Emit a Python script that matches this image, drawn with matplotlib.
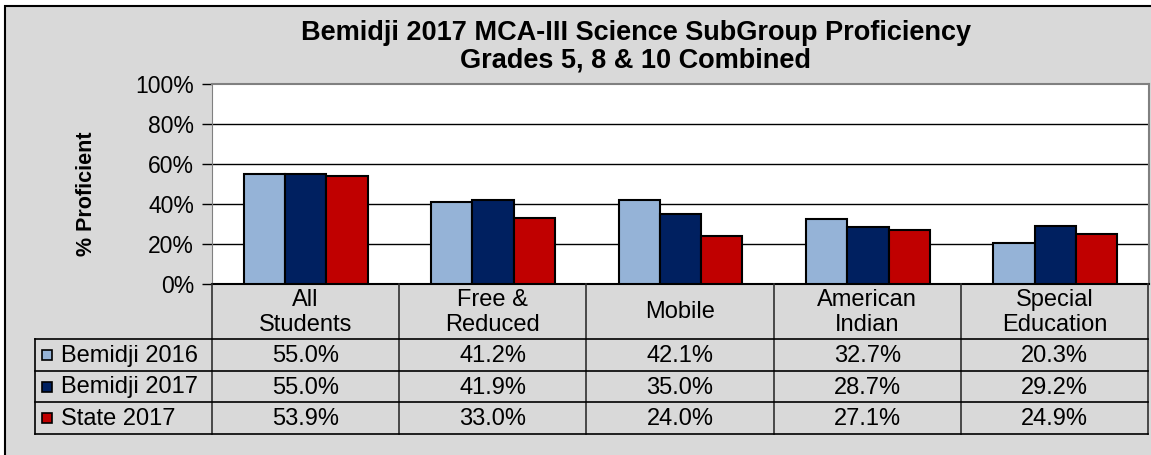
import numpy as np
import matplotlib.pyplot as plt
from matplotlib.patches import Rectangle

plt.rcParams['font.family'] = ['Liberation Sans', 'DejaVu Sans']

# data
categories = ["All\nStudents", "Free &\nReduced", "Mobile", "American\nIndian", "Special\nEducation"]
series = ["Bemidji 2016", "Bemidji 2017", "State 2017"]
bemidji_2016 = [55.0, 41.2, 42.1, 32.7, 20.3]
bemidji_2017 = [55.0, 41.9, 35.0, 28.7, 29.2]
state_2017 = [53.9, 33.0, 24.0, 27.1, 24.9]
colors = ["#95B3D7", "#002060", "#C00000"]
yticks = [0, 20, 40, 60, 80, 100]

W, H = 1151, 455
fig = plt.figure(figsize=(W / 100, H / 100), dpi=100, facecolor="white")

# gray chart background with border
fig.patches.append(Rectangle((5 / W, -0.1), 1.2, (H - 6) / H + 0.1, transform=fig.transFigure,
                             facecolor="#D9D9D9", edgecolor="black", linewidth=1.5, zorder=-1))

left, right = 212, 1149
top, bottom = 84, 284
ax = fig.add_axes([left / W, (H - bottom) / H, (right - left) / W, (bottom - top) / H])
ax.set_facecolor("white")

x = np.arange(len(categories))
bw = 0.22
data = [bemidji_2016, bemidji_2017, state_2017]
for i, vals in enumerate(data):
    ax.bar(x + (i - 1) * bw, vals, width=bw, color=colors[i], edgecolor="black", linewidth=1.5, zorder=3)

ax.set_xlim(-0.5, len(categories) - 0.5)
ax.set_ylim(0, 100)
ax.set_yticks(yticks)
ax.set_yticklabels([f"{t}%" for t in yticks], fontsize=16.5)
ax.set_xticks([])
ax.tick_params(axis="y", length=7, width=1, pad=6, color="black")
for t in yticks[1:-1]:
    ax.axhline(t, color="black", linewidth=1, zorder=1)
for s in ["top", "right"]:
    ax.spines[s].set_color("#808080")
    ax.spines[s].set_linewidth(1.5)
ax.spines["left"].set_color("#808080")
ax.spines["bottom"].set_color("black")
ax.spines["bottom"].set_linewidth(1.5)

fig.text(86 / W, 1 - 194 / H, "% Proficient", rotation=90, ha="center", va="center",
         fontsize=15.5, fontweight="bold")
fig.text(636 / W, 1 - 33 / H, "Bemidji 2017 MCA-III Science SubGroup Proficiency",
         ha="center", va="center", fontsize=19.5, fontweight="bold")
fig.text(636 / W, 1 - 61 / H, "Grades 5, 8 & 10 Combined",
         ha="center", va="center", fontsize=19.5, fontweight="bold")

# data table
tleft, tbottom = 35, 434
tab = fig.add_axes([tleft / W, (H - tbottom) / H, (right - 1 - tleft) / W, (tbottom - bottom) / H])
unit = (right - 1 - left) / len(categories)
x0 = -0.5 - (left - tleft) / unit
tab.set_xlim(x0, len(categories) - 0.5)
tab.set_ylim(tbottom - bottom, 0)
tab.axis("off")

hdr = 55
row_h = (tbottom - bottom - hdr) / 3
lc = "#303030"
for b in np.arange(len(categories) + 1) - 0.5:
    tab.plot([b, b], [0, tbottom - bottom], color=lc, linewidth=1.2, clip_on=False)
for k in range(4):
    yy = hdr + k * row_h
    tab.plot([x0, len(categories) - 0.5], [yy, yy], color="black", linewidth=1.2, clip_on=False)
tab.plot([x0, x0], [hdr, tbottom - bottom], color="black", linewidth=1.2, clip_on=False)

for j, c in enumerate(categories):
    tab.text(j, hdr / 2 + 1, c, ha="center", va="center", fontsize=17, linespacing=1.12)
for i, (name, vals) in enumerate(zip(series, data)):
    yc = hdr + (i + 0.5) * row_h
    tab.add_patch(Rectangle((x0 + 7 / unit, yc - 5), 10 / unit, 10, facecolor=colors[i],
                            edgecolor="black", linewidth=1.2))
    tab.text(x0 + 26 / unit, yc + 1, name, ha="left", va="center", fontsize=17)
    for j, v in enumerate(vals):
        tab.text(j, yc + 1, f"{v:.1f}%", ha="center", va="center", fontsize=17)

fig.savefig("out.png", dpi=100, facecolor=fig.get_facecolor())
